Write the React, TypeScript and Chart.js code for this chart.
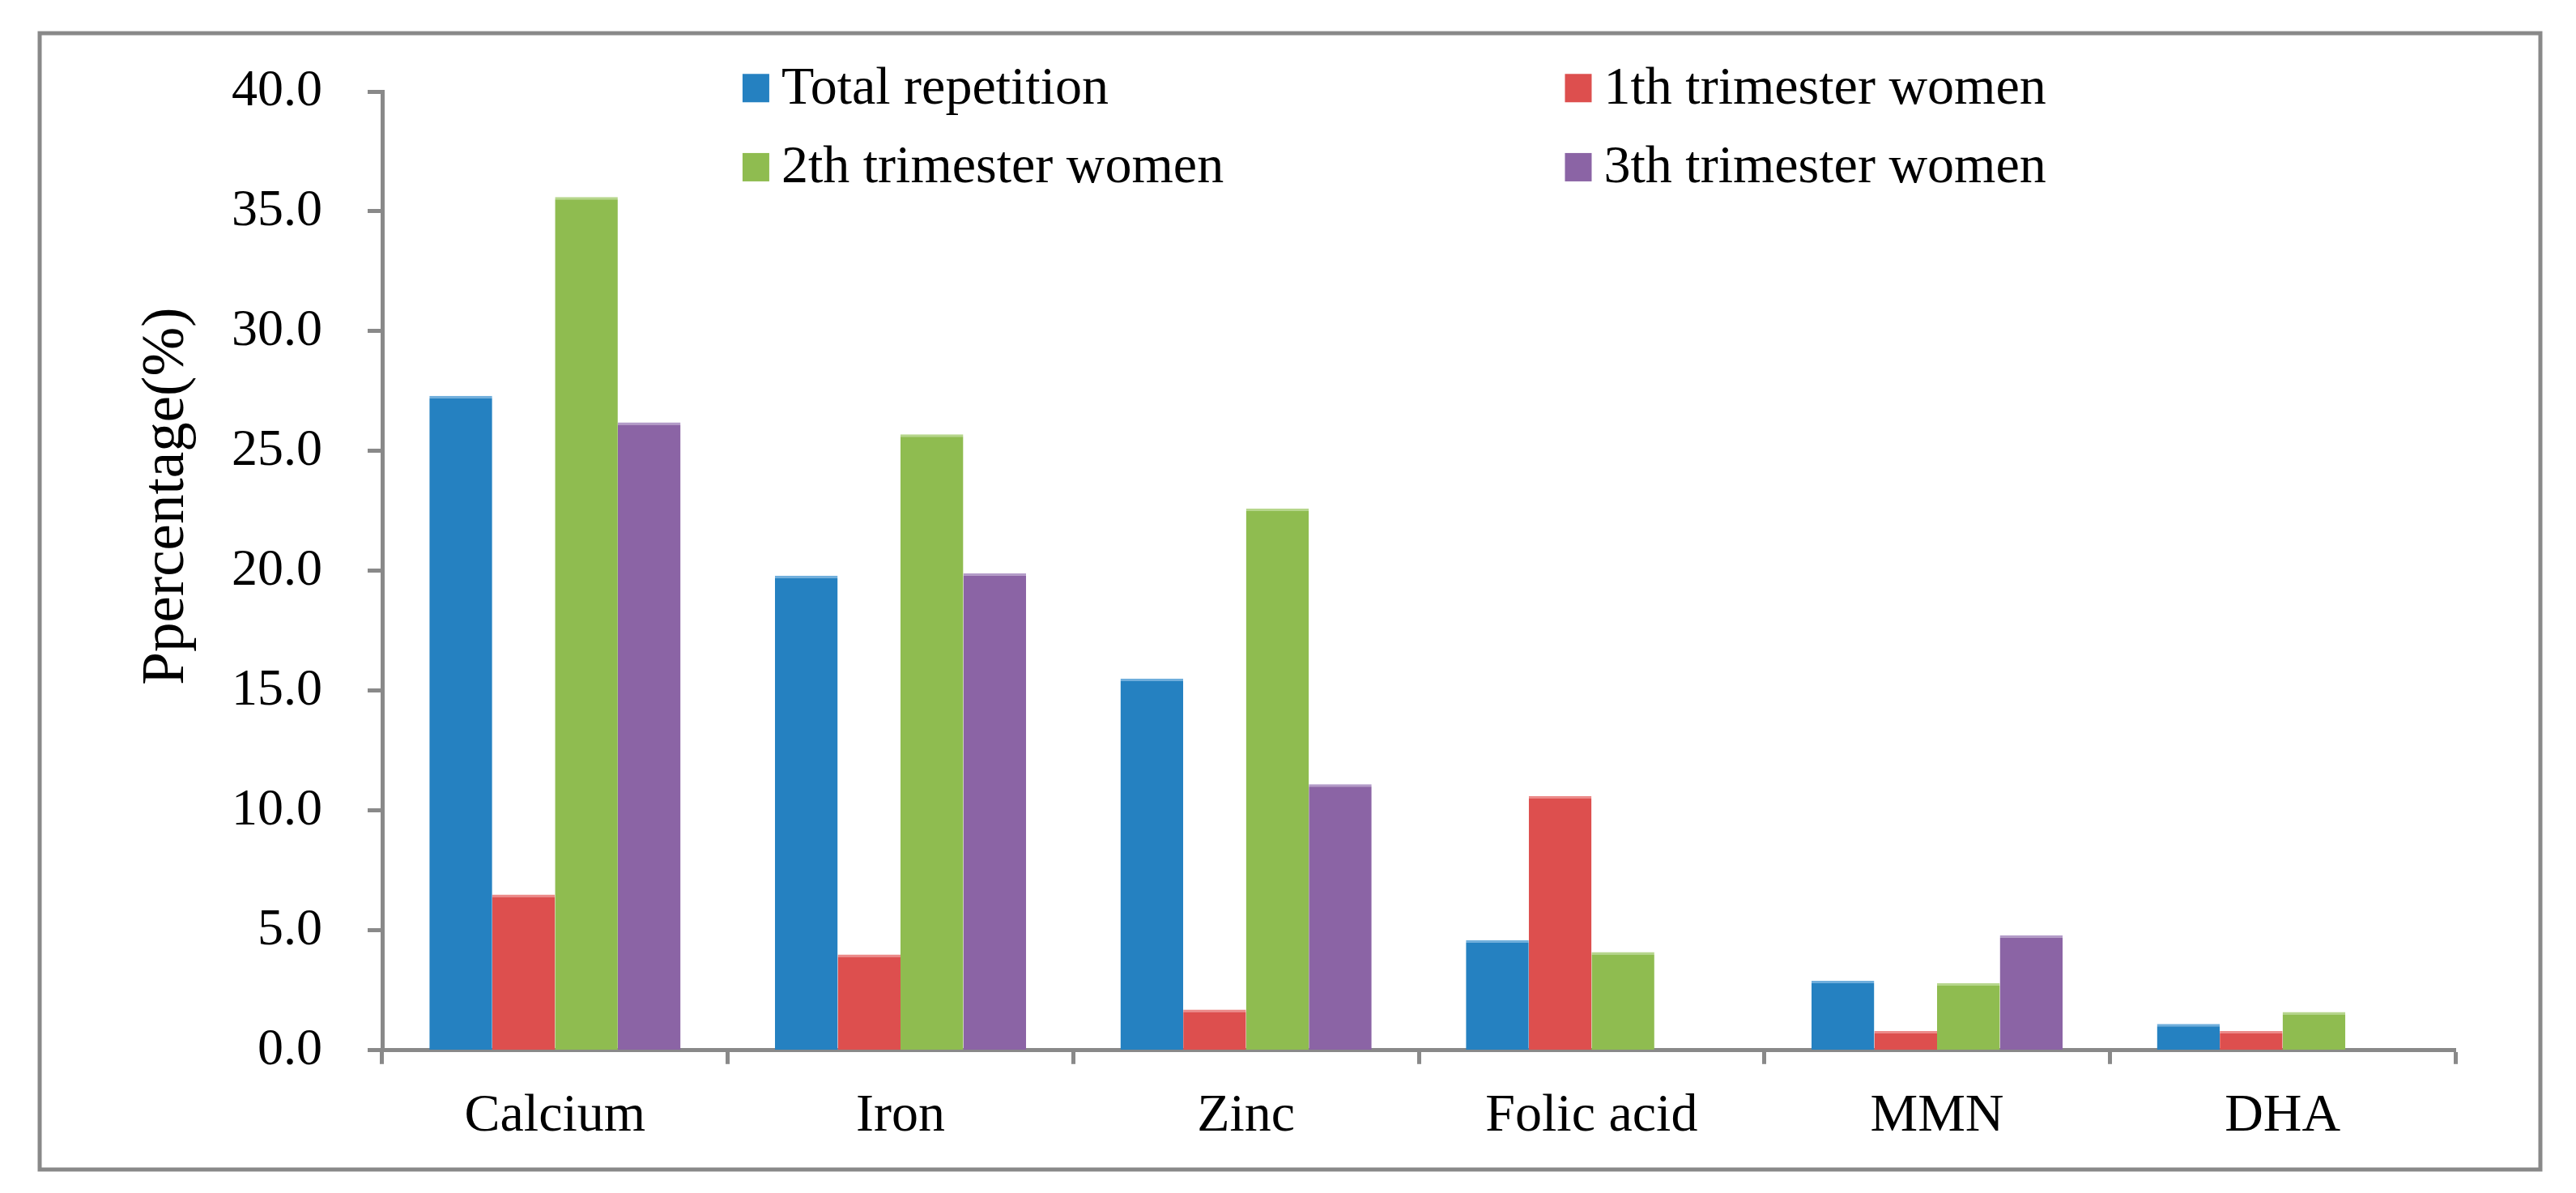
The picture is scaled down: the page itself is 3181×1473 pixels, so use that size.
import { useEffect, useRef } from "react"
import { Chart, registerables } from "chart.js"

Chart.register(...registerables)

const categories = ["Calcium", "Iron", "Zinc", "Folic acid", "MMN", "DHA"]
const seriesLabels = ["Total repetition", "1th trimester women", "2th trimester women", "3th trimester women"]
const totalRepetition = [27.3, 19.8, 15.5, 4.6, 2.9, 1.1]
const firstTrimester = [6.5, 4.0, 1.7, 10.6, 0.8, 0.8]
const secondTrimester = [35.6, 25.7, 22.6, 4.1, 2.8, 1.6]
const thirdTrimester = [26.2, 19.9, 11.1, null, 4.8, null]
const yTicks = [0, 5, 10, 15, 20, 25, 30, 35, 40]

const fills = ["#2581C1", "#DD4F4E", "#8FBC50", "#8B64A5"]
const tops = ["#6FAEDC", "#EC8A89", "#B6D68C", "#B39BC8"]
const axisGray = "#898989"
const serif = "'Liberation Serif', 'Times New Roman', serif"

// frame, y title and the two-column legend inside the plot
const decorations = {
  id: "decorations",
  afterDraw(chart: Chart) {
    const { ctx, chartArea, width, height } = chart
    const h = chartArea.bottom - chartArea.top
    const w = chartArea.right - chartArea.left
    ctx.save()

    ctx.strokeStyle = axisGray
    ctx.lineWidth = 5
    ctx.strokeRect(49, 41, width - 44 - 49, height - 29 - 41)

    ctx.fillStyle = "#000"
    ctx.font = `73px ${serif}`
    ctx.translate(chartArea.left - 246, chartArea.top + h * 0.422)
    ctx.rotate(-Math.PI / 2)
    ctx.textAlign = "center"
    ctx.textBaseline = "alphabetic"
    ctx.fillText("Ppercentage(%)", 0, 0)
    ctx.restore()

    ctx.save()
    ctx.font = `66px ${serif}`
    ctx.textBaseline = "middle"
    ctx.textAlign = "left"
    const cols = [0.1738, 0.5705]
    const rows = [-0.004, 0.0785]
    chart.data.datasets.forEach((ds, i) => {
      const x = chartArea.left + w * cols[i % 2]
      const y = chartArea.top + h * rows[Math.floor(i / 2)]
      ctx.fillStyle = ds.backgroundColor as string
      ctx.fillRect(x, y - 17, 33, 35)
      ctx.fillStyle = "#000"
      ctx.fillText(ds.label as string, x + 48, y + 2)
    })
    ctx.restore()
  },
}

export default function App() {
  const canvasRef = useRef<HTMLCanvasElement>(null)

  useEffect(() => {
    document.body.style.margin = "0"
    if (!canvasRef.current) return
    const values = [totalRepetition, firstTrimester, secondTrimester, thirdTrimester]

    const chart = new Chart(canvasRef.current, {
      type: "bar",
      data: {
        labels: categories,
        datasets: values.map((data, i) => ({
          label: seriesLabels[i],
          data,
          backgroundColor: fills[i],
          borderColor: tops[i],
          borderWidth: { top: 3, left: 0, right: 0, bottom: 0 },
          borderSkipped: "start" as const,
          categoryPercentage: 0.727,
          barPercentage: 1.0,
        })),
      },
      options: {
        responsive: true,
        maintainAspectRatio: false,
        animation: false,
        devicePixelRatio: 1,
        layout: { padding: { top: 113, left: 230, right: 149, bottom: 30 } },
        plugins: {
          legend: { display: false },
          tooltip: { enabled: false },
        },
        scales: {
          x: {
            grid: {
              offset: true,
              drawOnChartArea: false,
              drawTicks: true,
              tickLength: 17,
              tickColor: axisGray,
              tickWidth: 5,
            },
            border: { color: axisGray, width: 5 },
            ticks: { color: "#000", font: { family: serif, size: 66 }, padding: 25 },
          },
          y: {
            min: 0,
            max: 40,
            afterBuildTicks: (scale) => {
              scale.ticks = yTicks.map((v) => ({ value: v }))
            },
            grid: {
              drawOnChartArea: false,
              drawTicks: true,
              tickLength: 18,
              tickColor: axisGray,
              tickWidth: 5,
            },
            border: { color: axisGray, width: 5 },
            ticks: {
              color: "#000",
              font: { family: serif, size: 64 },
              padding: 56,
              callback: (v) => Number(v).toFixed(1),
            },
          },
        },
      },
      plugins: [decorations],
    })

    return () => chart.destroy()
  }, [])

  return (
    <div style={{ width: 3181, height: 1473, position: "relative", background: "#fff" }}>
      <canvas ref={canvasRef} />
    </div>
  )
}
